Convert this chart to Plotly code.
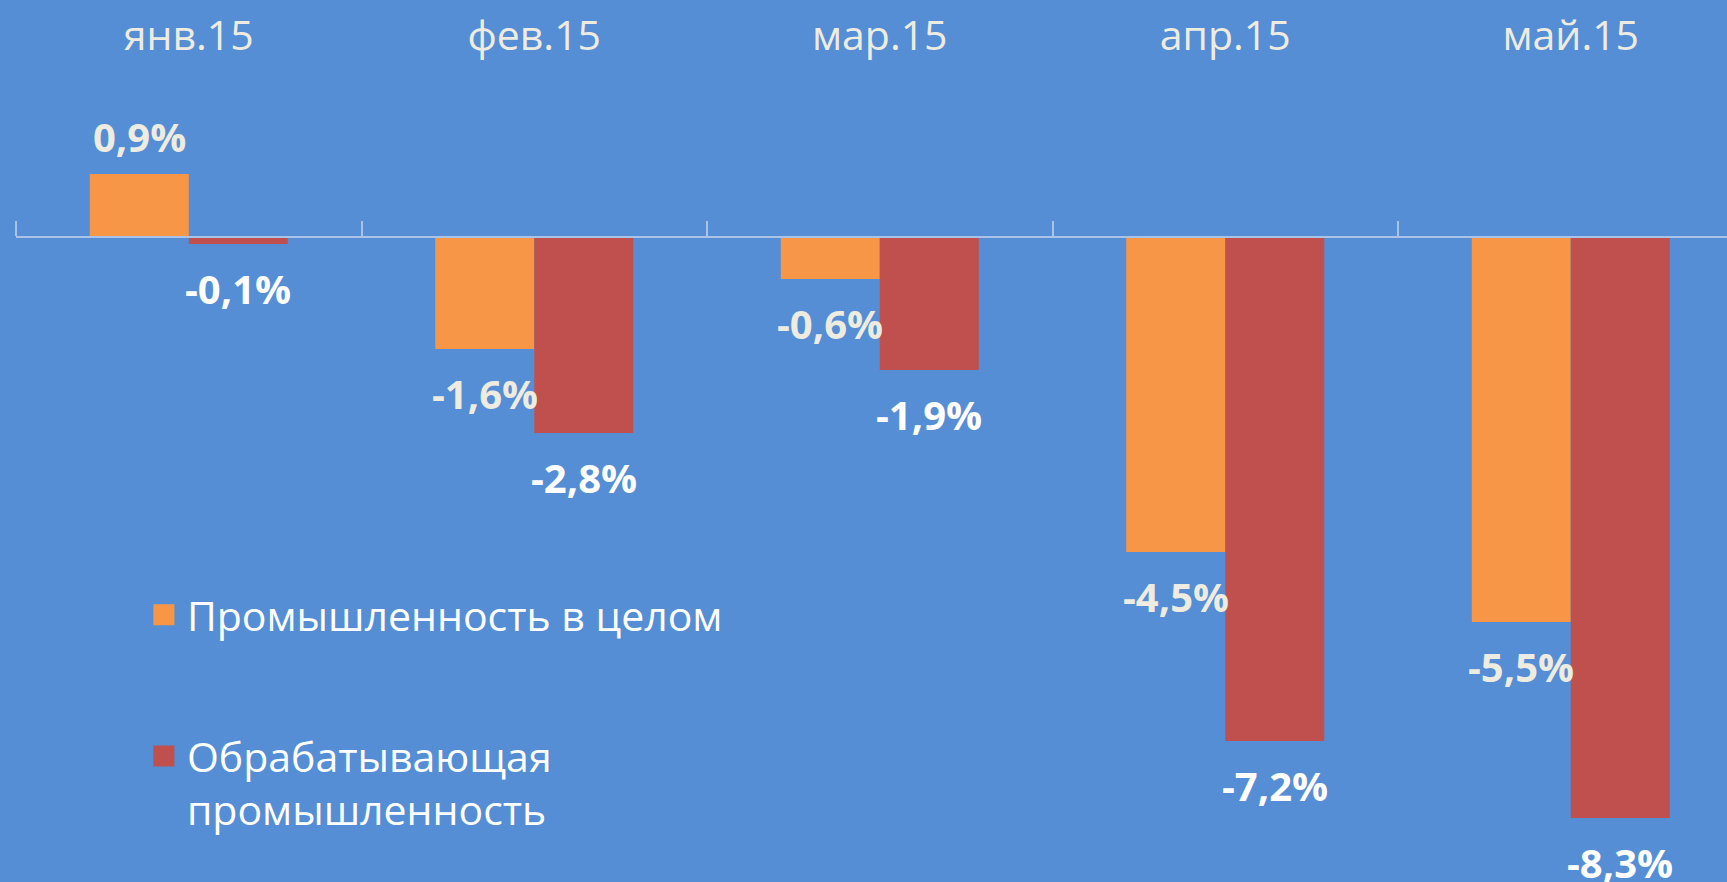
import plotly.graph_objects as go

# Monthly change, % (Excel-style chart with labels on top)
months = ["янв.15", "фев.15", "мар.15", "апр.15", "май.15"]
industry_total = [0.9, -1.6, -0.6, -4.5, -5.5]
manufacturing = [-0.1, -2.8, -1.9, -7.2, -8.3]

series_names = ["Промышленность в целом", "Обрабатывающая<br>промышленность"]
series_colors = ["#F79646", "#C0504D"]
label_colors = ["#EEECE1", "#FFFFFF"]

BG = "#558ED5"
AXIS_COLOR = "#A9C2E8"
FONT = "Open Sans"

W, H = 1727, 882
M_TOP, M_LEFT = 70, 16
Y_MIN, Y_MAX = -9.214, 2.386
BARGAP = 0.427
CAT_PX = 345.5


def pct(v):
    return f"{v:.1f}".replace(".", ",") + "%"


fig = go.Figure()

all_series = [industry_total, manufacturing]
for name, vals, color in zip(series_names, all_series, series_colors):
    fig.add_trace(go.Bar(
        x=months, y=vals, name=name,
        marker=dict(color=color, line=dict(width=0)),
        showlegend=False, hoverinfo="skip",
    ))

# legend entries with bigger squares
for i, (name, color) in enumerate(zip(series_names, series_colors)):
    fig.add_trace(go.Scatter(
        x=[None], y=[None], mode="markers", name=name,
        legendgroup=f"g{i}",
        marker=dict(symbol="square", size=16, color=color,
                    line=dict(color=color, width=5)),
    ))

# invisible trace to carry the category labels on the top axis
fig.add_trace(go.Scatter(
    x=months, y=[None] * len(months), xaxis="x2",
    showlegend=False, hoverinfo="skip",
))

# data labels
offset = (1 - BARGAP) / 4
for s, vals in enumerate(all_series):
    dx = -offset if s == 0 else offset
    for i, v in enumerate(vals):
        fig.add_annotation(
            x=i + dx, y=v, xref="x", yref="y",
            text=pct(v), showarrow=False,
            yanchor="middle", yshift=38 if v > 0 else -44,
            font=dict(family=FONT, size=40, color=label_colors[s], weight=700),
        )

zero_pos = (0 - Y_MIN) / (Y_MAX - Y_MIN)
x_end = -0.5 + (W - M_LEFT) / CAT_PX

fig.update_layout(
    width=W, height=H,
    paper_bgcolor=BG, plot_bgcolor=BG,
    margin=dict(l=M_LEFT, r=0, t=M_TOP, b=0),
    barmode="group", bargap=BARGAP, bargroupgap=0,
    font=dict(family=FONT, color="#FFFFFF"),
    xaxis=dict(
        type="category", categoryorder="array", categoryarray=months,
        range=[-0.5, x_end], side="top", anchor="free", position=zero_pos,
        showline=True, linecolor=AXIS_COLOR, linewidth=2,
        ticks="outside", tickson="boundaries", ticklen=15, tickcolor=AXIS_COLOR,
        tickwidth=1.5, showticklabels=False, showgrid=False, zeroline=False,
        fixedrange=True,
    ),
    xaxis2=dict(
        type="category", categoryorder="array", categoryarray=months,
        matches="x", overlaying="x", side="top", anchor="y",
        showline=False, ticks="", showgrid=False, zeroline=False,
        ticklabelstandoff=11,
        tickfont=dict(family=FONT, size=41, color="#EEECE1"),
    ),
    yaxis=dict(
        range=[Y_MIN, Y_MAX], visible=False, showgrid=False, zeroline=False,
        fixedrange=True,
    ),
    legend=dict(
        x=0.073, y=0.370, xanchor="left", yanchor="top",
        bgcolor="rgba(0,0,0,0)", tracegroupgap=85, valign="top",
        itemwidth=36,
        font=dict(family=FONT, size=41, color="#FFFFFF"),
        itemsizing="trace",
    ),
)

fig.write_html("out.html", config={"displayModeBar": False},
               post_script="document.body.style.margin='0';")
